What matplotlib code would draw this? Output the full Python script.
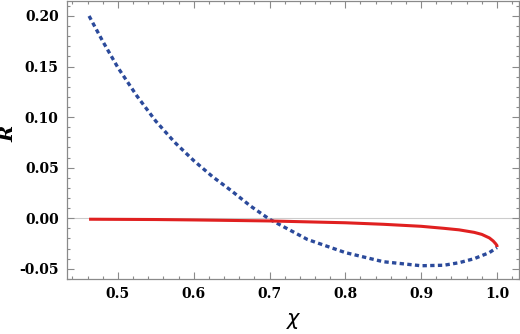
import matplotlib.pyplot as plt
from matplotlib.ticker import MultipleLocator, FormatStrFormatter

# blue dotted curve
chi_blue = [0.462, 0.48, 0.5, 0.525, 0.55, 0.575, 0.6, 0.625, 0.65, 0.675, 0.7,
            0.75, 0.8, 0.85, 0.9, 0.93, 0.95, 0.97, 0.98, 0.99, 1.0]
r_blue = [0.200, 0.175, 0.149, 0.121, 0.096, 0.075, 0.057, 0.041, 0.027, 0.012, -0.001,
          -0.021, -0.034, -0.043, -0.047, -0.0465, -0.044, -0.040, -0.037, -0.034, -0.029]

# red solid curve
chi_red = [0.462, 0.55, 0.6, 0.7, 0.8, 0.85, 0.9, 0.93, 0.95, 0.97, 0.98, 0.99,
           0.995, 0.998, 1.0, 1.0]
r_red = [-0.001, -0.0013, -0.0017, -0.0027, -0.0045, -0.006, -0.008, -0.0100,
         -0.0115, -0.0140, -0.0160, -0.0195, -0.0225, -0.0250, -0.0270, -0.0285]

plt.rcParams['font.family'] = ['DejaVu Serif']

fig = plt.figure(figsize=(5.2, 3.34), dpi=100)
ax = fig.add_axes([0.129, 0.165, 0.869, 0.832])

frame = '#8a8a8a'
ax.axhline(0, color='#cccccc', lw=0.8, zorder=1)
ax.plot(chi_blue, r_blue, color='#2b4a9b', lw=2.4, linestyle=(0, (1.3, 1.0)),
        dash_capstyle='butt', zorder=2)
ax.plot(chi_red, r_red, color='#e02020', lw=2.2, solid_capstyle='butt', zorder=3)

ax.set_xlim(0.433, 1.029)
ax.set_ylim(-0.06, 0.2148)

ax.xaxis.set_major_locator(MultipleLocator(0.1))
ax.xaxis.set_minor_locator(MultipleLocator(0.02))
ax.yaxis.set_major_locator(MultipleLocator(0.05))
ax.yaxis.set_minor_locator(MultipleLocator(0.01))
ax.xaxis.set_major_formatter(FormatStrFormatter('%.1f'))
ax.yaxis.set_major_formatter(FormatStrFormatter('%.2f'))

ax.tick_params(which='both', direction='in', top=True, right=True, color=frame,
               width=0.8)
ax.tick_params(which='major', length=5, labelsize=10, pad=6)
ax.tick_params(which='minor', length=2.5)
for lab in ax.get_xticklabels() + ax.get_yticklabels():
    lab.set_fontweight('bold')
for s in ax.spines.values():
    s.set_color(frame)
    s.set_linewidth(0.9)

# axis labels placed in figure coords
fig.text(0.565, 0.04, r'$\chi$', fontsize=15, ha='center', va='center')
fig.text(0.017, 0.60, 'R', fontsize=14, fontweight='bold', fontstyle='italic',
         rotation=90, ha='center', va='center')

plt.savefig('out.png', dpi=100)
